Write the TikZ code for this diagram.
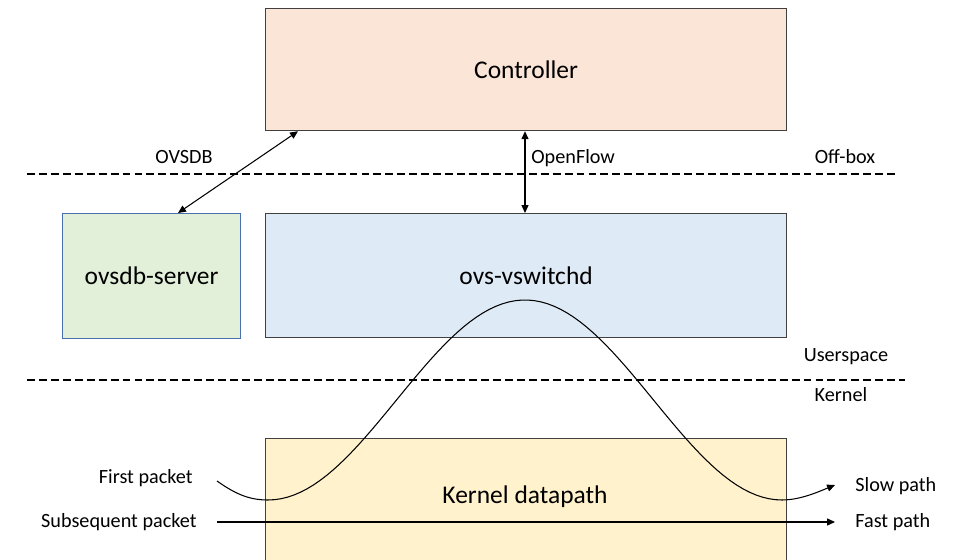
\documentclass[tikz,border=0pt]{standalone}
\usepackage{fontspec}
\setmainfont{Carlito}
\usepackage{xcolor}
\usetikzlibrary{arrows.meta}

\definecolor{ctrlfill}{HTML}{FBE5D6}
\definecolor{vsfill}{HTML}{DEEBF7}
\definecolor{dbfill}{HTML}{E2F0D9}
\definecolor{dbline}{HTML}{4A6FAE}
\definecolor{kfill}{HTML}{FFF2CC}
\definecolor{boxline}{HTML}{404040}

\tikzset{
  block/.style={draw=boxline, line width=0.7pt, anchor=north west, inner sep=0pt, font=\fontsize{14.5}{17}\selectfont},
  lbl/.style={inner sep=0pt, font=\fontsize{11.5}{14}\selectfont},
  sep/.style={line width=0.6pt, dash pattern=on 4.5pt off 2.3pt},
  link/.style={line width=0.6pt, {Triangle[length=4.5pt,width=4pt]}-{Triangle[length=4.5pt,width=4pt]}},
  flow/.style={line width=0.6pt, -{Triangle[length=4.5pt,width=4pt]}}
}

\begin{document}
\begin{tikzpicture}[x=0.02cm, y=-0.02cm]
        \useasboundingbox (0,0) rectangle (954,560);

        % boxes
        \node[block, fill=ctrlfill, minimum width=521*0.02cm, minimum height=122*0.02cm] (ctrl) at (265,8) {Controller};
        \node[block, fill=vsfill, minimum width=521*0.02cm, minimum height=124*0.02cm] (vswitchd) at (265,213) {ovs-vswitchd};
        \node[block, fill=dbfill, draw=dbline, minimum width=178*0.02cm, minimum height=125*0.02cm] (ovsdb) at (62,213) {ovsdb-server};
        \node[block, fill=kfill, minimum width=521*0.02cm, minimum height=135*0.02cm] (kernel) at (265,438) {};
        \node[block, anchor=center, draw=none] (kerneltext) at (525,497) {Kernel datapath};

        % separators
        \draw[sep] (27,174) -- (897,174);
        \draw[sep] (27,380) -- (905,380);

        \node[lbl] (ovsdblbl) at (184,157) {OVSDB};
        \node[lbl, anchor=west] (oflbl) at (531,158) {OpenFlow};
        \node[lbl] (offbox) at (845,157) {Off-box};
        \node[lbl] (user) at (846,357) {Userspace};
        \node[lbl] (kern) at (841,395) {Kernel};

        % control links
        \draw[link] ([xshift=116*0.02cm]ovsdb.north west) -- ([xshift=33*0.02cm]ctrl.south west);
        \draw[link] (vswitchd.north -| oflbl.west) ++(-6*0.02cm,0) coordinate (ofb) -- (ofb |- ctrl.south);

        % packets
        \node[lbl, anchor=east] (first) at (193,478) {First packet};
        \node[lbl, anchor=east] (subseq) at (197,522) {Subsequent packet};
        \node[lbl, anchor=west] (slow) at (855,486) {Slow path};
        \node[lbl, anchor=west] (fast) at (855,522) {Fast path};
        \coordinate (fin) at (217,481);
        \coordinate (sin) at (217,522);
        \coordinate (fout) at (835,485);
        \coordinate (sout) at (835,522);

        \draw[flow] (fin) .. controls (238,496) and (252,500) .. (268,500)
                -- plot[domain=-1:1, samples=80] ({525+257*\x}, {400-100*cos(180*\x)})
                .. controls (800,500) and (818,492) .. (fout);
        \draw[flow] (sin) -- (sout);
    \end{tikzpicture}
\end{document}
